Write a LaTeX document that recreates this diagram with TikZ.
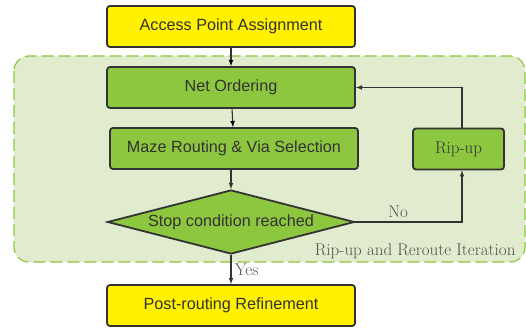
\documentclass[tikz,border=0pt]{standalone}
\usepackage{fontspec}
\setmainfont{Latin Modern Roman}
\setsansfont{Liberation Sans}
\usetikzlibrary{shapes.geometric, positioning}
\definecolor{stepyellow}{RGB}{255,241,0}
\definecolor{stepgreen}{RGB}{141,198,63}
\definecolor{loopbg}{RGB}{224,236,205}
\definecolor{darkline}{RGB}{51,51,51}

\begin{document}
\begin{tikzpicture}[x=1pt, y=-1pt, >=latex,
    box/.style={draw=darkline, line width=1.8pt, rounded corners=3pt, minimum width=248pt,
                minimum height=41pt, inner sep=0pt, font=\sffamily\fontsize{16.2}{19}\selectfont, text=darkline},
    yellowbox/.style={box, fill=stepyellow},
    greenbox/.style={box, fill=stepgreen},
    decision/.style={diamond, draw=darkline, line width=1.8pt, fill=stepgreen, aspect=3.86,
                minimum width=247pt, minimum height=64pt, inner sep=0pt,
                font=\sffamily\fontsize{16.2}{19}\selectfont, text=darkline},
    lbl/.style={font=\rmfamily\fontsize{17}{20}\selectfont, text=darkline!85},
    flow/.style={->, draw=darkline, line width=1.1pt}]
    \useasboundingbox (0,0) rectangle (526,328);

    % iteration region
    \fill[loopbg, rounded corners=15pt] (14,56) rectangle (525,262);
    \draw[stepgreen, line width=1.2pt, dash pattern=on 12pt off 5pt, rounded corners=15pt] (14,56) rectangle (525,262);

    \node [yellowbox] (apa) at (231, 26.5) {Access Point Assignment};
    \node [greenbox] (order) at (231, 87.5) {Net Ordering};
    \node [greenbox] (maze) at (234, 148.5) {Maze Routing \& Via Selection};
    \node [greenbox, minimum width=91pt, font=\rmfamily\fontsize{17}{20}\selectfont] (ripup) at (458.5, 149) {Rip-up};
    \node [decision] (stop) at (231, 222) {Stop condition reached};
    \node [yellowbox] (post) at (231, 305.5) {Post-routing Refinement};
    \node [lbl, anchor=base east] (iter) at (519, 255) {Rip-up and Reroute Iteration};

    \coordinate (corner) at (462, 222);
 \path[flow]
      (apa) edge (order)
      (order) edge (maze);
 \draw[flow] (maze.south -| stop.north) -- (stop.north);
 \draw[flow] (stop.east) -- node[lbl, above, pos=0.4] (no) {No} (corner) -- (corner |- ripup.south);
 \draw[flow] (ripup.north -| corner) |- (order.east);
 \draw[flow] (stop.south) -- node[lbl, right] (yes) {Yes} (post.north);
\end{tikzpicture}
\end{document}
